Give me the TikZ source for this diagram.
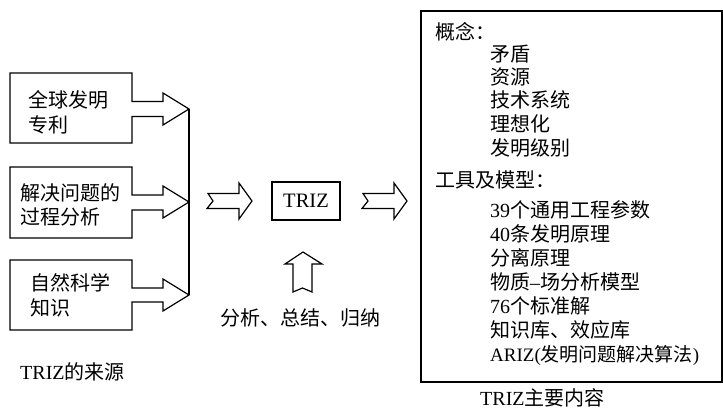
\documentclass[tikz,border=0pt]{standalone}
\usepackage{fontspec}
\setmainfont{Liberation Serif}
\newfontfamily\cjk{Noto Sans CJK SC}
\newcommand\zh[1]{{\cjk #1}}
\begin{document}
\begin{tikzpicture}[x=1pt,y=-1pt,
  outline/.style={line width=1.2pt,line join=miter},
  txt/.style={inner sep=0pt,anchor=west,font=\fontsize{20pt}{24pt}\selectfont},
  ctxt/.style={inner sep=0pt,font=\fontsize{20pt}{24pt}\selectfont},
  captxt/.style={inner sep=0pt,anchor=west,font=\fontsize{20pt}{24pt}\selectfont}]
\useasboundingbox (0,0) rectangle (723,410);

% --- sources: boxes with block arrows ---
\draw[outline] (132,101.5) -- (132,73) -- (10,73) -- (10,143) -- (132,143) -- (132,116.5)
  -- (163,116.5) -- (163,125) -- (189,109) -- (163,93) -- (163,101.5) -- cycle;
\draw[outline] (132,195) -- (132,167) -- (10,167) -- (10,238) -- (132,238) -- (132,210)
  -- (163,210) -- (163,218) -- (189,202) -- (163,186) -- (163,195) -- cycle;
\draw[outline] (132,288) -- (132,260) -- (10,260) -- (10,330) -- (132,330) -- (132,302)
  -- (163,302) -- (163,311) -- (189,295) -- (163,279) -- (163,288) -- cycle;
\coordinate (m1) at (189,109);
\coordinate (m3) at (189,295);
\draw[outline] (m1) -- (m3);

\node[txt] (s1a) at (28,100) {\zh{全球发明}};
\node[txt] (s1b) at (28,125) {\zh{专利}};
\node[txt] (s2a) at (20,193) {\zh{解决问题的}};
\node[txt] (s2b) at (20,217) {\zh{过程分析}};
\node[txt] (s3a) at (30,283) {\zh{自然科学}};
\node[txt] (s3b) at (30,308) {\zh{知识}};
\node[captxt] (cap1) at (20,372) {TRIZ\zh{的来源}};

% --- middle ---
\draw[outline] (208,193.5) -- (239,193.5) -- (239,183) -- (252,201) -- (239,219) -- (239,208.5)
  -- (207,208.5) -- (213,201) -- cycle;
\node[draw,outline,minimum width=68pt,minimum height=38pt,inner sep=0pt,
  font=\fontsize{20.5pt}{24pt}\selectfont] (triz) at (306,201) {TRIZ};
\draw[outline] (363,193.5) -- (394,193.5) -- (394,183) -- (407,201) -- (394,219) -- (394,208.5)
  -- (362,208.5) -- (368,201) -- cycle;
\draw[outline] (293,292) -- (293,264) -- (285,264) -- (303,252) -- (322,264) -- (312,264)
  -- (312,292) -- (302.5,288) -- cycle;
\node[ctxt] (anal) at (300,318) {\zh{分析、总结、归纳}};

% --- content box ---
\node[draw,outline,minimum width=301pt,minimum height=371pt,inner sep=0pt] (content) at (571.5,196.5) {};
\node[txt] (h1) at (435,32) {\zh{概念：}};
\node[txt] (c1) at (490,54) {\zh{矛盾}};
\node[txt] (c2) at (490,77) {\zh{资源}};
\node[txt] (c3) at (490,100) {\zh{技术系统}};
\node[txt] (c4) at (490,124) {\zh{理想化}};
\node[txt] (c5) at (490,148) {\zh{发明级别}};
\node[txt] (h2) at (435,180) {\zh{工具及模型：}};
\node[txt] (t1) at (490,210) {39\zh{个通用工程参数}};
\node[txt] (t2) at (490,234) {40\zh{条发明原理}};
\node[txt] (t3) at (490,258) {\zh{分离原理}};
\node[txt] (t4) at (490,282) {\zh{物质}–\zh{场分析模型}};
\node[txt] (t5) at (490,306) {76\zh{个标准解}};
\node[txt] (t6) at (490,330) {\zh{知识库、效应库}};
\node[txt,font=\fontsize{19pt}{24pt}\selectfont] (t7) at (490,355) {ARIZ(\zh{发明问题解决算法})};
\node[captxt] (cap2) at (480,398) {TRIZ\zh{主要内容}};
\end{tikzpicture}
\end{document}
